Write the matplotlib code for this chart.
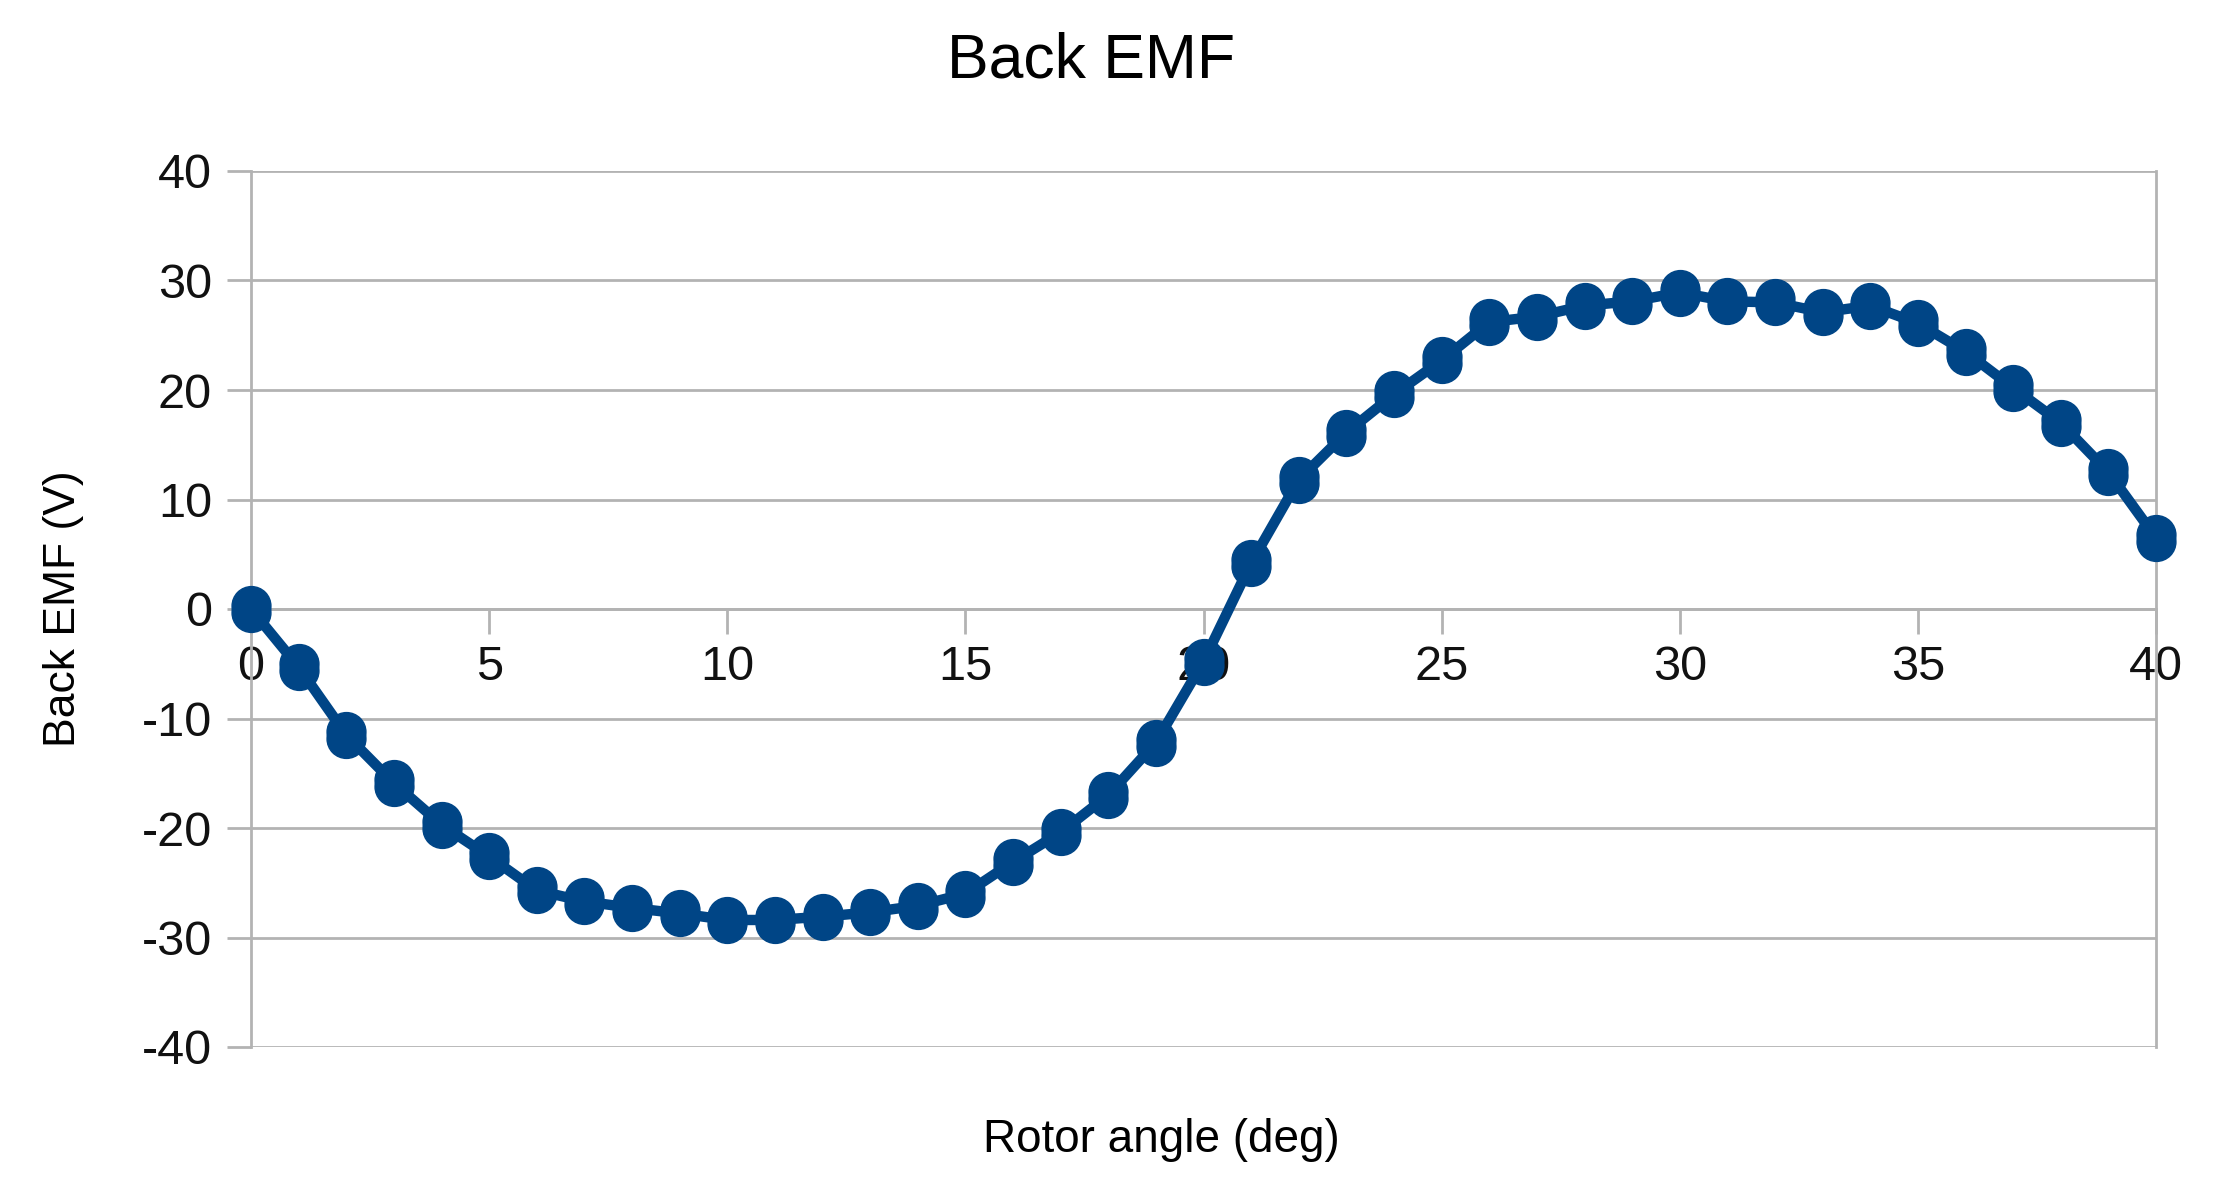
import numpy as np
import matplotlib
matplotlib.use('Agg')
import matplotlib.pyplot as plt
from matplotlib.path import Path

plt.rcParams['font.family'] = ['Liberation Sans', 'DejaVu Sans']
plt.rcParams['axes.unicode_minus'] = False

# rotor angle (deg) and measured back EMF (V)
angle = list(range(0, 41))
emf = [0.0, -5.3, -11.5, -15.9, -19.7, -22.6, -25.7, -26.7, -27.3, -27.8,
       -28.4, -28.4, -28.1, -27.7, -27.1, -26.0, -23.1, -20.4, -17.0, -12.2,
       -4.8, 4.2, 11.8, 16.1, 19.6, 22.7, 26.2, 26.7, 27.7, 28.1,
       28.9, 28.1, 28.0, 27.1, 27.7, 26.1, 23.5, 20.2, 17.0, 12.5,
       6.5]
xticks = [0, 5, 10, 15, 20, 25, 30, 35, 40]
yticks = [-40, -30, -20, -10, 0, 10, 20, 30, 40]

W, H = 2221, 1201
fig = plt.figure(figsize=(W/100, H/100), dpi=100)
ax = fig.add_axes([251/W, 1 - 1047/H, (2156-251)/W, (1047-171)/H])

grid_c = '#b3b3b3'
blue = '#004586'

# slightly doubled round marker, like the reference's blotchy dots
circ = Path.unit_circle()
dot = Path.make_compound_path(
    Path(circ.vertices + [0, 0.18], circ.codes),
    Path(circ.vertices - [0, 0.18], circ.codes))

ax.plot(angle, emf, '-', color=blue, lw=7.5, clip_on=False, zorder=5)
ax.plot(angle, emf, ls='none', marker=dot, color=blue, ms=33,
        clip_on=False, zorder=6)

ax.set_xlim(0, 40)
ax.set_ylim(-40, 40)
ax.set_xticks(xticks)
ax.set_yticks(yticks)
ax.yaxis.grid(True, color=grid_c, lw=2, zorder=0)

ax.spines['bottom'].set_position(('data', 0))
for s in ax.spines.values():
    s.set_color(grid_c)
    s.set_linewidth(2)
ax.spines['top'].set_visible(False)

ax.tick_params(axis='both', colors=grid_c, labelcolor='#111111',
               labelsize=35, width=2)
ax.tick_params(axis='x', length=18, pad=8)
ax.tick_params(axis='y', length=17, pad=11)

fig.text(1091/W, 1 - 61/H, 'Back EMF', fontsize=45, ha='center', va='center')
fig.text(1161/W, 1 - 1140/H, 'Rotor angle (deg)', fontsize=33,
         ha='center', va='center')
fig.text(64/W, 1 - 609/H, 'Back EMF (V)', fontsize=32, rotation=90,
         ha='center', va='center')

fig.savefig('out.png', dpi=100)
